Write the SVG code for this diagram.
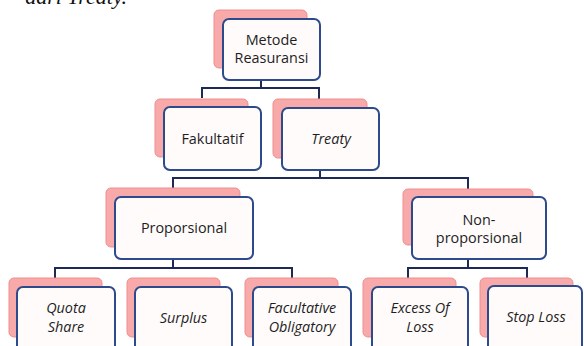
<svg xmlns="http://www.w3.org/2000/svg" width="584" height="346" viewBox="0 0 584 346">
<style>
.sh{fill:#f8a9a9;stroke:#ef8d8d;stroke-width:1}
.fr{fill:#fffbfb;stroke:#2c4a8c;stroke-width:2}
.t{font-family:"Open Sans",Lato,sans-serif;font-size:14.4px;fill:#1e1e1e;text-anchor:middle}
.i{font-style:italic}
.c{fill:none;stroke:#1c2a55;stroke-width:2}
</style>
<rect width="584" height="346" fill="#ffffff"/>
<text x="127" y="4" font-family="Liberation Serif,serif" font-size="22" font-style="italic" text-anchor="end" fill="#111">dari Treaty.</text>
<g id="connectors">
<path class="c" d="M261 80V88M202 98V88H319V99"/>
<path class="c" d="M320 170V178M173 189V178H468V189"/>
<path class="c" d="M173 259V268M55 279V268H292V279"/>
<path class="c" d="M468 259V268M408 279V268H527V279"/>
</g>
<g id="metode"><rect class="sh" x="214" y="10" width="93" height="58" rx="5"/><rect class="fr" x="223" y="19" width="97" height="61" rx="6"/><text class="t" x="271.5" y="45">Metode</text><text class="t" x="271.5" y="63">Reasuransi</text></g>
<g id="fakultatif"><rect class="sh" x="155" y="99" width="93" height="58" rx="5"/><rect class="fr" x="164" y="107" width="97" height="63" rx="6"/><text class="t" x="212.5" y="144">Fakultatif</text></g>
<g id="treaty"><rect class="sh" x="273" y="99" width="94" height="59" rx="5"/><rect class="fr" x="282" y="108" width="97" height="62" rx="6"/><text class="t i" x="331" y="144">Treaty</text></g>
<g id="proporsional"><rect class="sh" x="106" y="188" width="134" height="59" rx="5"/><rect class="fr" x="115" y="197" width="138" height="62" rx="6"/><text class="t" x="184" y="233">Proporsional</text></g>
<g id="nonproporsional"><rect class="sh" x="403" y="189" width="130" height="56" rx="5"/><rect class="fr" x="412" y="197" width="134" height="62" rx="6"/><text class="t" x="479" y="225">Non-</text><text class="t" x="479" y="243">proporsional</text></g>
<g id="quota"><rect class="sh" x="9" y="278" width="93" height="59" rx="5"/><rect class="fr" x="17" y="287" width="98" height="70" rx="6"/><text class="t i" x="66" y="313">Quota</text><text class="t i" x="66" y="332">Share</text></g>
<g id="surplus"><rect class="sh" x="127" y="278" width="93" height="59" rx="5"/><rect class="fr" x="135" y="287" width="97" height="70" rx="6"/><text class="t i" x="183.5" y="323">Surplus</text></g>
<g id="facultative"><rect class="sh" x="245" y="278" width="93" height="59" rx="5"/><rect class="fr" x="253" y="287" width="98" height="70" rx="6"/><text class="t i" x="302" y="313">Facultative</text><text class="t i" x="302" y="332">Obligatory</text></g>
<g id="excess"><rect class="sh" x="363" y="278" width="93" height="59" rx="5"/><rect class="fr" x="372" y="287" width="96" height="70" rx="6"/><text class="t i" x="420" y="313">Excess Of</text><text class="t i" x="420" y="332">Loss</text></g>
<g id="stoploss"><rect class="sh" x="480" y="278" width="93" height="59" rx="5"/><rect class="fr" x="488" y="286" width="94" height="71" rx="6"/><text class="t i" x="536" y="322">Stop Loss</text></g>
</svg>
